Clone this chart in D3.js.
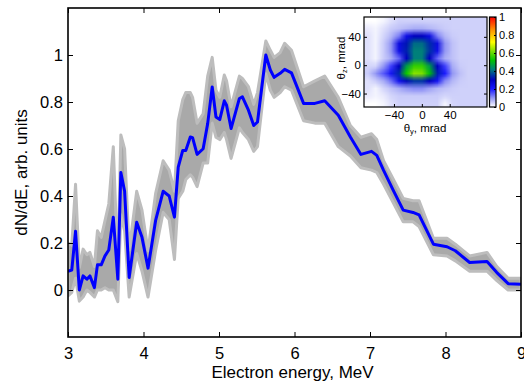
<!DOCTYPE html>
<html><head><meta charset="utf-8">
<script src="https://cdn.jsdelivr.net/npm/d3@7"></script>
<style>
body{margin:0;background:#fff}
svg{display:block;font-family:"Liberation Sans",Arial,sans-serif}
</style></head><body>
<svg id="chart" width="524" height="382"></svg>
<script>
// spectrum
const energy = [3.00,3.05,3.10,3.15,3.20,3.25,3.29,3.35,3.39,3.44,3.49,3.54,3.60,3.66,3.70,3.75,3.81,3.91,3.98,4.06,
	4.16,4.26,4.34,4.41,4.46,4.52,4.56,4.62,4.65,4.71,4.79,4.85,4.91,4.96,5.01,5.07,5.10,5.16,5.27,5.31,
	5.39,5.46,5.51,5.62,5.68,5.73,5.81,5.87,5.96,6.12,6.27,6.40,6.58,6.74,6.88,7.02,7.09,7.18,7.31,7.44,
	7.57,7.65,7.84,8.02,8.13,8.32,8.55,8.68,8.83,9.00]
const dndeMean = [0.08,0.085,0.25,0.0,0.06,0.046,0.06,0.01,0.107,0.107,0.145,0.17,0.31,0.046,0.50,0.42,0.053,0.288,0.224,0.093,
	0.295,0.42,0.40,0.31,0.523,0.594,0.594,0.651,0.648,0.577,0.601,0.708,0.864,0.736,0.725,0.805,0.786,0.687,0.815,0.822,
	0.765,0.70,0.715,1.0,0.936,0.905,0.922,0.939,0.924,0.794,0.794,0.805,0.744,0.651,0.577,0.59,0.573,0.509,0.423,0.34,
	0.33,0.32,0.195,0.184,0.167,0.117,0.121,0.074,0.027,0.024]
const dndeUpper = [0.2,0.19,0.45,0.095,0.174,0.15,0.16,0.10,0.252,0.224,0.295,0.366,0.61,0.10,0.66,0.60,0.17,0.42,0.34,0.167,
	0.41,0.55,0.51,0.42,0.72,0.81,0.84,0.84,0.82,0.71,0.75,0.91,0.99,0.85,0.82,0.915,0.89,0.78,0.91,0.90,
	0.865,0.79,0.84,1.06,1.02,0.99,1.01,1.05,1.02,0.865,0.89,0.91,0.82,0.70,0.65,0.665,0.64,0.55,0.47,0.39,
	0.38,0.38,0.22,0.22,0.195,0.145,0.16,0.10,0.05,0.05]
const dndeLower = [-0.025,-0.01,0.05,-0.047,-0.03,0.0,-0.01,-0.03,0.0,0.0,0.01,0.0,0.0,-0.05,0.32,0.25,-0.03,0.155,0.08,-0.03,
	0.167,0.33,0.30,0.13,0.39,0.42,0.47,0.49,0.48,0.44,0.54,0.54,0.71,0.65,0.64,0.67,0.64,0.56,0.69,0.67,
	0.64,0.59,0.61,0.92,0.85,0.82,0.84,0.865,0.85,0.72,0.71,0.71,0.61,0.57,0.52,0.51,0.50,0.45,0.37,0.29,
	0.29,0.27,0.15,0.145,0.124,0.08,0.08,0.04,0.0,0.0]
const xTicks = [3,4,5,6,7,8,9]
const yTicks = [0,0.2,0.4,0.6,0.8,1]

// inset: beam profile, coarse grid of intensities (rows top -> bottom)
const beamXRange = [-83, 93.5]
const beamYRange = [-59, 68]
const insetTicks = [-40,0,40]
const cbarTicks = [0,0.2,0.4,0.6,0.8,1]
const cmapStops = [0,0.1,0.2,0.3,0.42,0.52,0.62,0.72,0.86,1]
const cmapColors = ["#ffffff","#9498f4","#1a1aff","#0000c0","#00807a","#00c400","#7ce000","#ffff00","#ff9000","#ff0000"]
const beamImage = [
	[0.00,0.00,0.01,0.03,0.045,0.045,0.045,0.045,0.045,0.045,0.045,0.045,0.045,0.045,0.045,0.045],
	[0.02,0.01,0.03,0.05,0.06,0.07,0.08,0.08,0.07,0.06,0.05,0.045,0.045,0.045,0.045,0.045],
	[0.03,0.01,0.04,0.07,0.12,0.24,0.30,0.30,0.25,0.12,0.07,0.05,0.045,0.045,0.045,0.045],
	[0.03,0.01,0.05,0.10,0.25,0.32,0.40,0.40,0.34,0.25,0.10,0.06,0.045,0.045,0.045,0.045],
	[0.03,0.01,0.05,0.10,0.24,0.33,0.42,0.42,0.35,0.24,0.10,0.06,0.045,0.045,0.045,0.045],
	[0.03,0.01,0.05,0.08,0.14,0.30,0.42,0.42,0.30,0.14,0.08,0.06,0.045,0.045,0.045,0.045],
	[0.04,0.04,0.10,0.17,0.30,0.46,0.56,0.56,0.46,0.30,0.17,0.08,0.05,0.045,0.045,0.045],
	[0.05,0.10,0.15,0.22,0.34,0.53,0.63,0.62,0.51,0.33,0.20,0.10,0.06,0.045,0.045,0.045],
	[0.03,0.05,0.08,0.13,0.23,0.31,0.35,0.35,0.30,0.22,0.11,0.07,0.05,0.045,0.045,0.045],
	[0.03,0.01,0.04,0.06,0.08,0.10,0.11,0.11,0.09,0.07,0.06,0.05,0.045,0.045,0.045,0.045],
	[0.02,0.01,0.02,0.04,0.05,0.05,0.05,0.05,0.05,0.05,0.04,0.045,0.045,0.045,0.045,0.045],
	[0.00,0.00,0.01,0.03,0.045,0.045,0.045,0.045,0.045,0.045,0.01,0.04,0.045,0.045,0.045,0.045]
]

const svg = d3.select("#chart")
const plotLeft = 68, plotRight = 521, plotTop = 8, plotBottom = 337

const x = d3.scaleLinear().domain([3, 9]).range([plotLeft, plotRight])
const y = d3.scaleLinear().domain([-0.2, 1.2]).range([plotBottom, plotTop])

svg.append("clipPath").attr("id", "plotclip")
	.append("rect").attr("x", plotLeft).attr("y", plotTop).attr("width", plotRight - plotLeft).attr("height", plotBottom - plotTop)

const pts = energy.map((e, i) => ({ e, m: dndeMean[i], hi: dndeUpper[i], lo: dndeLower[i] }))
const plot = svg.append("g").attr("clip-path", "url(#plotclip)")

plot.append("path")
	.datum(pts)
	.attr("d", d3.area().x(d => x(d.e)).y0(d => y(d.lo)).y1(d => y(d.hi)))
	.attr("fill", "#a9a9a9")
	.attr("stroke", "#bdbdbd")
	.attr("stroke-width", 3)
	.attr("stroke-linejoin", "round")

plot.append("path")
	.datum(pts)
	.attr("d", d3.line().x(d => x(d.e)).y(d => y(d.m)))
	.attr("fill", "none")
	.attr("stroke", "#0000ff")
	.attr("stroke-width", 3)
	.attr("stroke-linejoin", "round")

// axes, ticks pointing inward on all four sides
const styleAxis = g => {
	g.select(".domain").remove()
	g.selectAll("line").attr("stroke", "#000").attr("stroke-width", 1)
	g.selectAll("text").attr("fill", "#000").attr("font-size", 16.5)
}
const tickFmt = d => d === 0 || d === 1 ? d3.format("d")(d) : d3.format(".1f")(d)

svg.append("g").attr("transform", `translate(0,${plotBottom})`)
	.call(d3.axisBottom(x).tickValues(xTicks).tickFormat(d3.format("d")).tickSize(-5).tickPadding(10))
	.call(styleAxis)
svg.append("g").attr("transform", `translate(0,${plotTop})`)
	.call(d3.axisTop(x).tickValues(xTicks).tickFormat("").tickSize(-5))
	.call(styleAxis)
svg.append("g").attr("transform", `translate(${plotLeft},0)`)
	.call(d3.axisLeft(y).tickValues(yTicks).tickFormat(tickFmt).tickSize(-5).tickPadding(5))
	.call(styleAxis)
svg.append("g").attr("transform", `translate(${plotRight},0)`)
	.call(d3.axisRight(y).tickValues(yTicks).tickFormat("").tickSize(-5))
	.call(styleAxis)

svg.append("rect")
	.attr("x", plotLeft).attr("y", plotTop).attr("width", plotRight - plotLeft).attr("height", plotBottom - plotTop)
	.attr("fill", "none").attr("stroke", "#000").attr("stroke-width", 1.6)

svg.append("text")
	.attr("x", 292.5).attr("y", 378)
	.attr("text-anchor", "middle").attr("font-size", 17)
	.text("Electron energy, MeV")

svg.append("text")
	.attr("transform", `translate(27,${(plotTop + plotBottom) / 2}) rotate(-90)`)
	.attr("text-anchor", "middle").attr("font-size", 17)
	.text("dN/dE, arb. units")

// ---- inset ----
const ix = d3.scaleLinear().domain(beamXRange).range([364, 487])
const iy = d3.scaleLinear().domain(beamYRange).range([107, 17])
const cmap = d3.scaleLinear().domain(cmapStops).range(cmapColors).clamp(true)

const rows = beamImage.length, cols = beamImage[0].length
const canvas = document.createElement("canvas")
canvas.width = cols
canvas.height = rows
const ctx = canvas.getContext("2d")
beamImage.forEach((row, r) => row.forEach((v, c) => {
	ctx.fillStyle = cmap(v)
	ctx.fillRect(c, r, 1, 1)
}))

const inset = svg.append("g")
inset.append("image")
	.attr("href", canvas.toDataURL())
	.attr("x", ix(beamXRange[0])).attr("y", iy(beamYRange[1]))
	.attr("width", ix(beamXRange[1]) - ix(beamXRange[0]))
	.attr("height", iy(beamYRange[0]) - iy(beamYRange[1]))
	.attr("preserveAspectRatio", "none")

const insetAxis = g => {
	g.select(".domain").remove()
	g.selectAll("line").attr("stroke", "#000")
	g.selectAll("text").attr("fill", "#000").attr("font-size", 11.5)
}
inset.append("g").attr("transform", `translate(0,${iy(beamYRange[0])})`)
	.call(d3.axisBottom(ix).tickValues(insetTicks).tickSize(-3).tickPadding(4))
	.call(insetAxis)
inset.append("g").attr("transform", `translate(0,${iy(beamYRange[1])})`)
	.call(d3.axisTop(ix).tickValues(insetTicks).tickFormat("").tickSize(-3))
	.call(insetAxis)
inset.append("g").attr("transform", `translate(${ix(beamXRange[0])},0)`)
	.call(d3.axisLeft(iy).tickValues(insetTicks).tickSize(-3).tickPadding(3))
	.call(insetAxis)
inset.append("g").attr("transform", `translate(${ix(beamXRange[1])},0)`)
	.call(d3.axisRight(iy).tickValues(insetTicks).tickFormat("").tickSize(-3))
	.call(insetAxis)
inset.append("rect")
	.attr("x", ix(beamXRange[0])).attr("y", iy(beamYRange[1]))
	.attr("width", ix(beamXRange[1]) - ix(beamXRange[0]))
	.attr("height", iy(beamYRange[0]) - iy(beamYRange[1]))
	.attr("fill", "none").attr("stroke", "#000").attr("stroke-width", 1.2)

const xl = inset.append("text").attr("x", 425).attr("y", 131.5)
	.attr("text-anchor", "middle").attr("font-size", 11.5)
xl.append("tspan").text("θ")
xl.append("tspan").attr("font-size", 7.5).attr("dy", 2).text("y")
xl.append("tspan").attr("dy", -2).text(", mrad")

const yl = inset.append("text").attr("transform", `translate(345,58) rotate(-90)`)
	.attr("text-anchor", "middle").attr("font-size", 11.5)
yl.append("tspan").text("θ")
yl.append("tspan").attr("font-size", 7.5).attr("dy", 2).text("z")
yl.append("tspan").attr("dy", -2).text(", mrad")

// colour bar
const cb = d3.scaleLinear().domain([0, 1]).range([107, 17])
const grad = svg.append("defs").append("linearGradient")
	.attr("id", "cbgrad").attr("x1", 0).attr("y1", 1).attr("x2", 0).attr("y2", 0)
grad.selectAll("stop").data(cmapStops).join("stop")
	.attr("offset", d => d).attr("stop-color", d => cmap(d))
inset.append("rect")
	.attr("x", 489.5).attr("y", cb(1)).attr("width", 6.5).attr("height", cb(0) - cb(1))
	.attr("fill", "url(#cbgrad)").attr("stroke", "#000").attr("stroke-width", 1.2)
inset.append("g").attr("transform", "translate(496,0)")
	.call(d3.axisRight(cb).tickValues(cbarTicks).tickFormat(tickFmt).tickSize(-2).tickPadding(3))
	.call(g => { insetAxis(g); g.selectAll("text").attr("font-size", 11) })
</script>
</body></html>
